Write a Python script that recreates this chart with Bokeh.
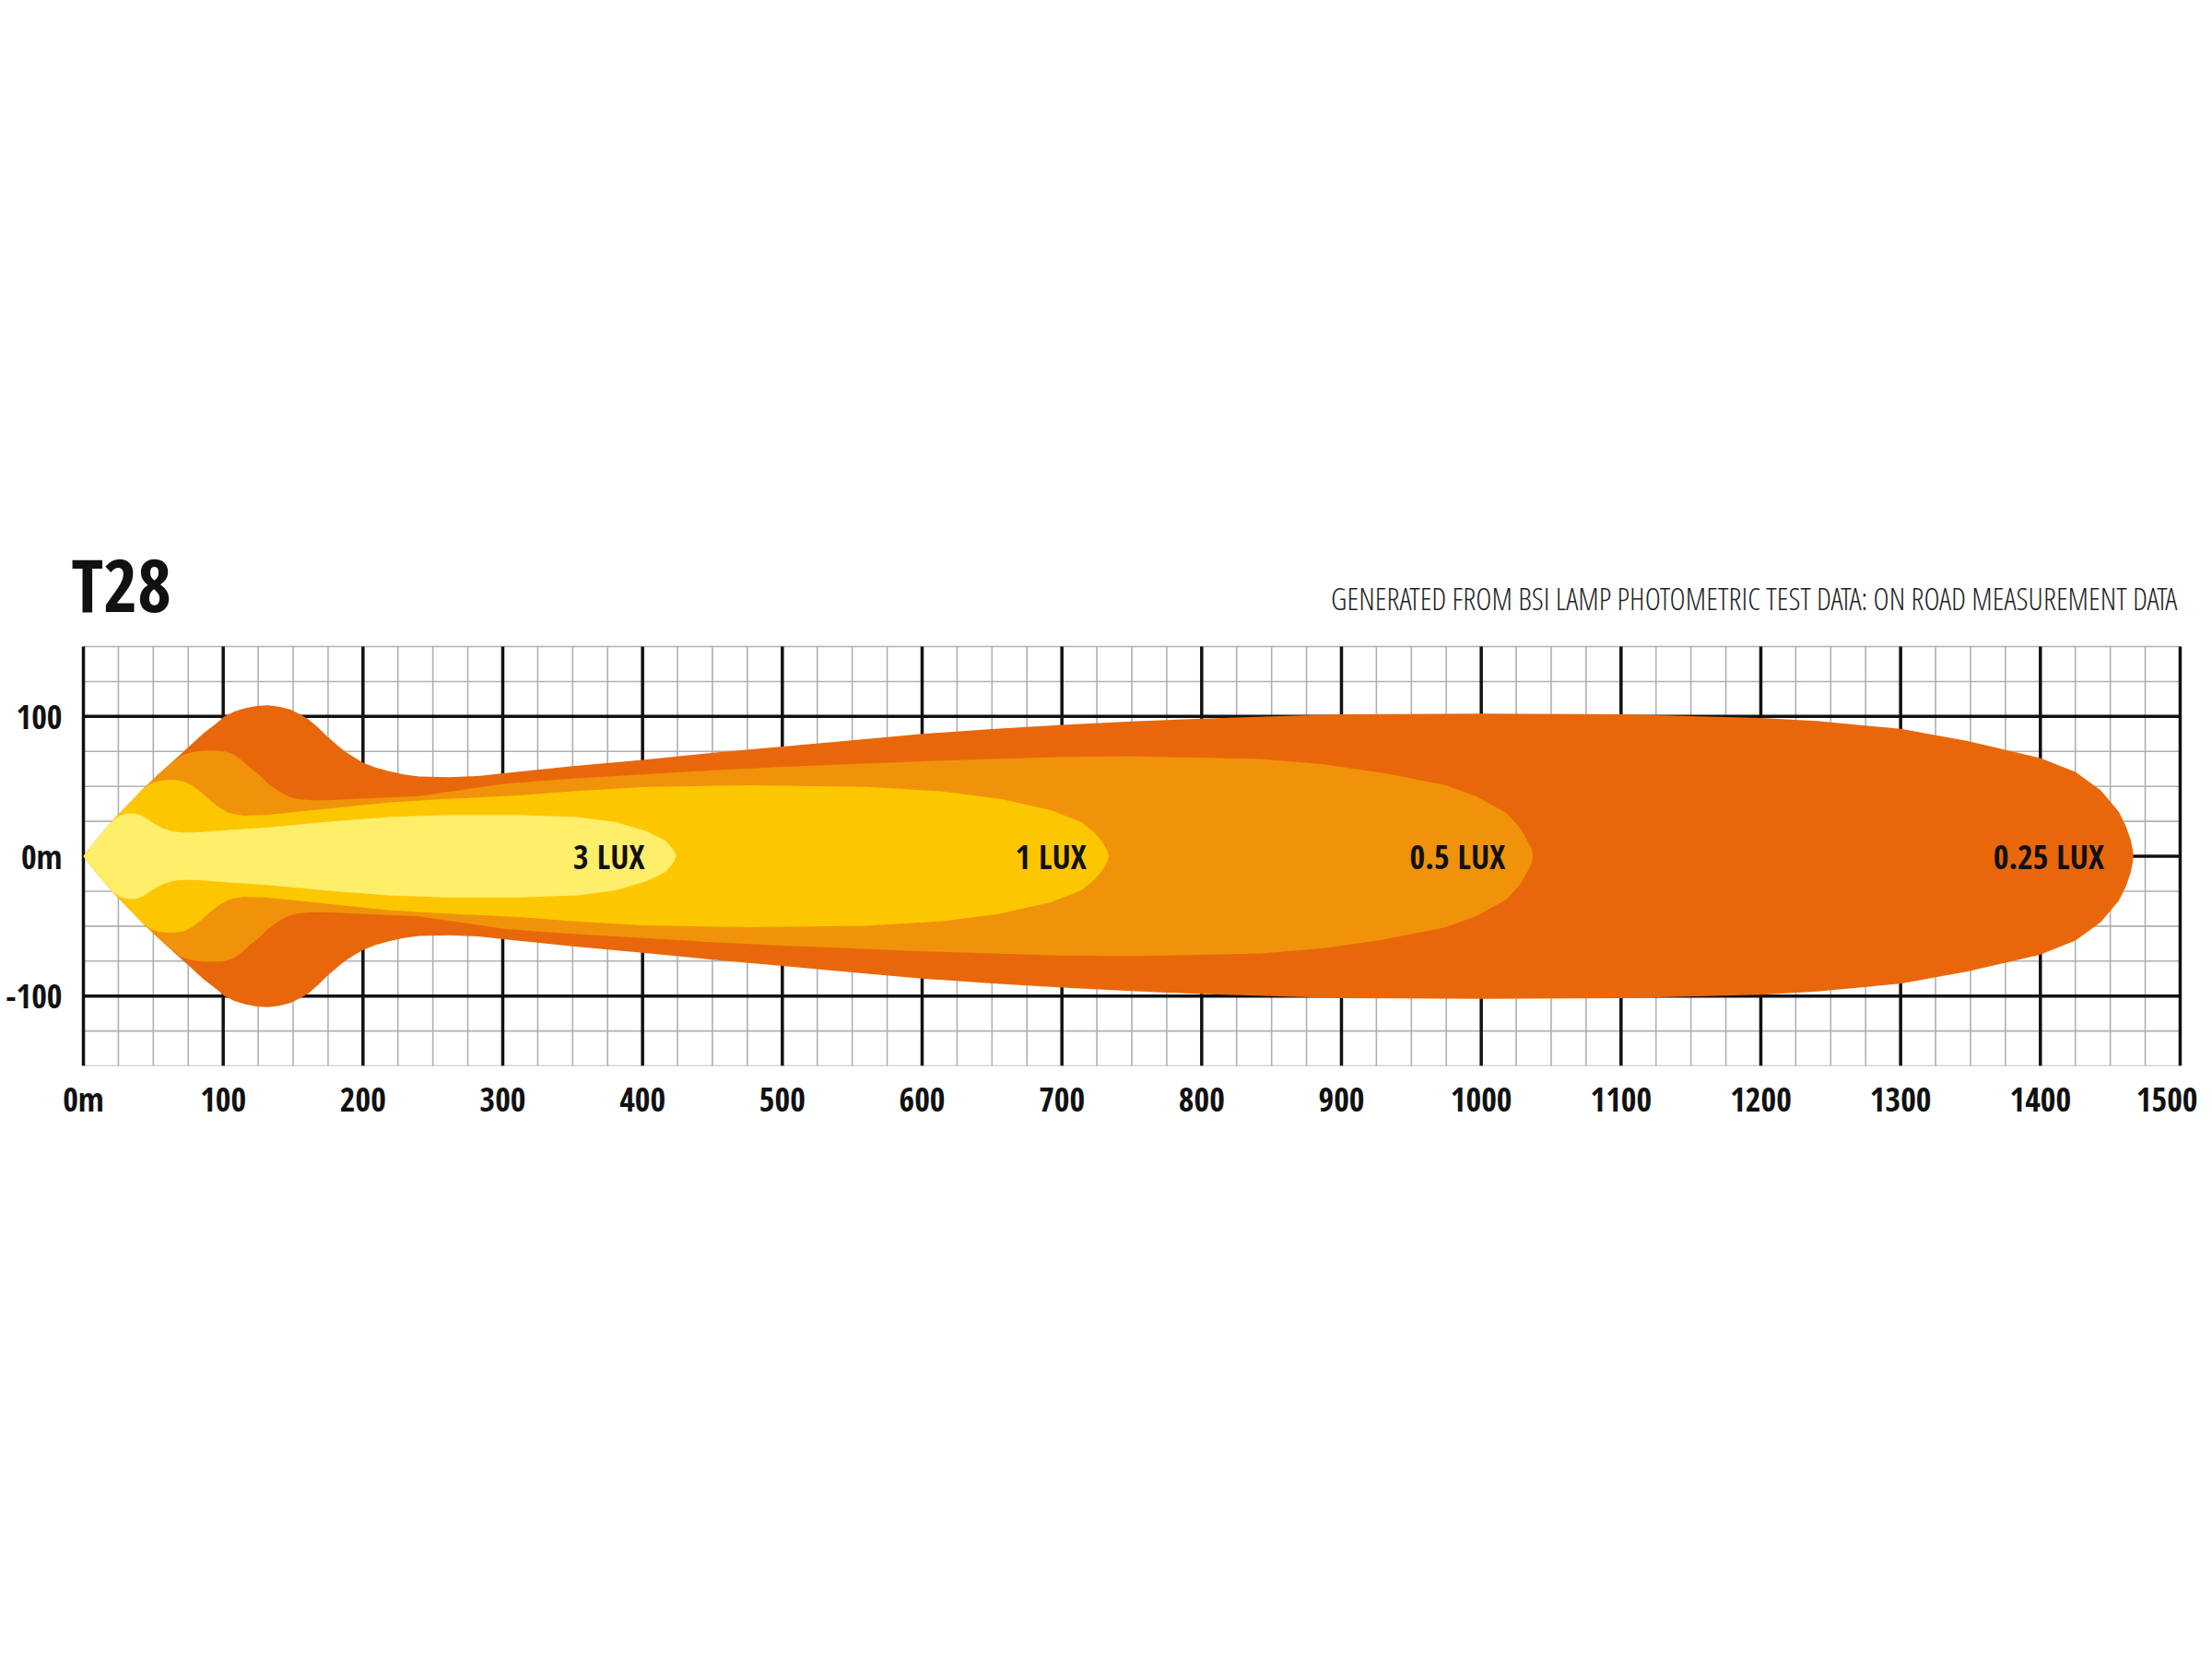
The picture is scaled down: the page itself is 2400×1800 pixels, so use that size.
from bokeh.plotting import figure
from bokeh.models import Range1d, FixedTicker, ColumnDataSource
from bokeh.core.properties import value
from bokeh.embed import file_html
from bokeh.resources import INLINE

# beam contours, upper half (distance in m, half width in m), mirrored below
dist_025 = [0, 10, 20, 31, 42, 53, 64, 75, 86, 95, 101, 108, 116, 124, 132, 140, 148, 155, 161, 168,
            174, 181, 187, 194, 200, 209, 218, 229, 240, 262, 284, 302, 350, 400, 450, 500, 550, 600,
            650, 700, 750, 800, 850, 900, 1000, 1100, 1200, 1240, 1300, 1348, 1400, 1425, 1443, 1456,
            1461, 1464.5, 1466, 1466.5]
half_025 = [0, 12.5, 24.5, 36, 47.5, 58, 68, 78, 88, 95, 100, 103.5, 106, 107.5, 108, 107, 105, 101.5, 98, 92,
            86, 80, 75, 70.5, 67, 63.5, 61, 58.5, 57, 56.5, 57.5, 59.5, 64.5, 69, 74, 78.5, 83, 87.5,
            91, 94, 96.5, 98.5, 100, 101.5, 102, 101.5, 99, 96.7, 91.2, 82.4, 70.3, 60.4, 47.3, 32,
            22, 12, 5, 0]

dist_05 = [0, 10, 20, 31, 42, 53, 62, 70, 78, 86, 94, 101, 107, 113, 119, 126, 132, 139, 146, 152, 163,
           174, 196, 240, 302, 350, 400, 450, 500, 550, 600, 650, 700, 750, 800, 842, 886, 930, 974,
           996, 1018, 1028, 1033, 1036, 1037]
half_05 = [0, 12.5, 24.5, 36, 47.5, 58, 66, 72, 74.5, 75.5, 75.5, 75, 73, 69, 63.5, 58, 52, 47, 43, 41, 40,
           40, 41, 43, 52, 55.5, 58.5, 61.5, 64, 66, 68, 69.5, 71, 71.5, 70.5, 69.5, 66, 59.6, 51,
           43, 31, 20, 11, 5, 0]

dist_1 = [0, 10, 20, 31, 42, 48, 54, 60, 66, 72, 78, 84, 90, 97, 103, 108, 115, 130, 150, 174, 218, 260,
          312, 350, 400, 477, 560, 615, 656, 692, 714, 723, 729, 732.5, 733.5]
half_1 = [0, 12.5, 24.5, 36, 47.5, 52, 54, 54.5, 54.5, 53.5, 50.5, 46, 40.5, 35, 31.5, 30, 29, 29.5, 31.5, 34, 38.5, 41,
          43.5, 46.5, 49.5, 50.8, 49.7, 46.4, 41, 33, 24.4, 17, 10, 4, 0]

dist_3 = [0, 10, 20, 26, 31, 37, 42, 47, 52, 57, 63, 70, 80, 100, 130, 174, 218, 260, 312, 353, 381, 403,
          416.5, 420, 423, 424]
half_3 = [0, 12.5, 24.5, 29, 30.5, 30.5, 29, 25.5, 22.5, 20, 18, 17, 17, 18.5, 20.5, 24.5, 28, 29.5, 29.5, 28, 24.4, 17.8,
          11.2, 7, 3, 0]

lux_labels = ["3 LUX", "1 LUX", "0.5 LUX", "0.25 LUX"]
lux_label_x = [376, 692, 983, 1406]

x_ticks = list(range(0, 1501, 100))
x_minor = list(range(0, 1501, 25))
y_ticks = [-100, 0, 100]
y_minor = [-150, -125, -75, -50, -25, 25, 50, 75, 125, 150]

FONT = "'Open Sans Condensed', 'Roboto Condensed', 'DejaVu Sans Condensed', sans-serif"
FONT_LIGHT = "'Open Sans Condensed Light', 'Open Sans Condensed', 'DejaVu Sans Condensed', sans-serif"

# frame reaches up past the grid so the heading sits inside it
p = figure(
    width=2384, height=1784,
    x_range=Range1d(-9.9, 1502), y_range=Range1d(-150, 243),
    output_backend="svg", toolbar_location=None,
    min_border_left=75, min_border_right=16,
    min_border_top=560, min_border_bottom=628,
)
p.outline_line_color = None
p.xgrid.visible = False
p.ygrid.visible = False

p.xaxis.ticker = FixedTicker(ticks=x_ticks)
p.yaxis.ticker = FixedTicker(ticks=y_ticks)
p.xaxis.major_label_overrides = {0: "0m"}
p.yaxis.major_label_overrides = {-100: "-100", 0: "0m", 100: "100"}

for ax in (p.xaxis[0], p.yaxis[0]):
    ax.axis_line_color = None
    ax.major_tick_line_color = None
    ax.minor_tick_line_color = None
    ax.major_tick_out = 0
    ax.major_tick_in = 0
    ax.major_label_text_font = FONT
    ax.major_label_text_font_style = "bold"
    ax.major_label_text_font_size = "36px"
    ax.major_label_text_color = "#111111"
p.xaxis.major_label_standoff = 11
p.yaxis.major_label_standoff = 8

# grid: thin grey every 25 m, heavy black every 100 m
p.segment(x_minor, -150, x_minor, 150, line_color="#adb0b4", line_width=1.6)
p.segment(0, y_minor, 1500, y_minor, line_color="#adb0b4", line_width=1.6)
p.segment(x_ticks, -150, x_ticks, 150, line_color="#111111", line_width=3.5)
p.segment(0, y_ticks, 1500, y_ticks, line_color="#111111", line_width=3.5)

# nested filled contours, outermost first
for dist, half, color in [(dist_025, half_025, "#E9670B"),
                          (dist_05, half_05, "#F0930A"),
                          (dist_1, half_1, "#FDC700"),
                          (dist_3, half_3, "#FFEE6A")]:
    xs = dist + dist[::-1]
    ys = half + [-h for h in half[::-1]]
    p.patch(xs, ys, fill_color=color, line_color=None)

src = ColumnDataSource(data={"x": lux_label_x, "y": [0] * len(lux_label_x), "t": lux_labels})
p.text("x", "y", text="t", source=src, text_align="center", text_baseline="middle",
       text_font=value(FONT), text_font_style="bold", text_font_size="36px", text_color="#111111")

# heading
p.text([-8.6], [195.5], text=["T28"], text_font=value(FONT), text_font_style="bold",
       text_font_size="80px", text_color="#111111", text_baseline="middle")
p.text([1498], [184.3], text=["GENERATED FROM BSI LAMP PHOTOMETRIC TEST DATA: ON ROAD MEASUREMENT DATA"],
       text_font=value(FONT_LIGHT), text_font_size="33px", text_color="#222222",
       text_align="right", text_baseline="middle")

open("out.html", "w").write(file_html(p, INLINE))
